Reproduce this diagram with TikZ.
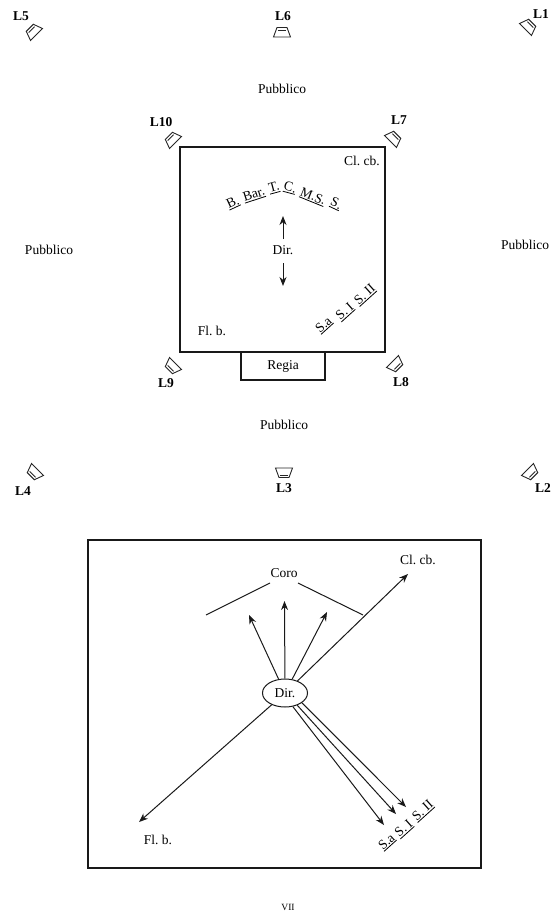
\documentclass[tikz,border=0pt]{standalone}
\usepackage{fontspec}
\setmainfont{Liberation Serif}
\usetikzlibrary{arrows.meta,shapes.geometric}
\tikzset{
 lbl/.style={inner sep=0pt,font=\fontsize{13.5}{15}\selectfont\frenchspacing},
 lab/.style={inner sep=0pt,font=\fontsize{13.5}{15}\selectfont\bfseries},
 small/.style={inner sep=0pt,font=\fontsize{9.5}{11}\selectfont},
 heavy/.style={draw=black!90,line width=1.8pt},
 arr/.style={draw=black!90,line width=1pt,-{Stealth[length=9pt,width=7pt]}},
 plain/.style={draw=black!90,line width=1pt},
 spk/.style={draw=black!85,line width=0.9pt,fill=white,line join=miter},
}
\newcommand{\ulb}[1]{\vtop{\hbox{#1}\kern0.8pt\hrule height 0.8pt}}
\newcommand{\spkr}[3]{\begin{scope}[shift={(#1,#2)},rotate=#3]
 \draw[spk] (-5,-4.5) -- (-8.5,5) -- (8.5,5) -- (5,-4.5) -- cycle;
 \draw[spk] (-4.2,-2) -- (4.2,-2);
\end{scope}}
\begin{document}
\begin{tikzpicture}[x=1pt,y=-1pt]
\useasboundingbox (0,0) rectangle (555,917);
% speakers
\spkr{33}{31}{45}
\spkr{282}{32}{0}
\spkr{529}{26}{-45}
\spkr{172}{139}{45}
\spkr{394}{138}{-45}
\spkr{172}{367}{135}
\spkr{396}{365}{-135}
\spkr{34}{473}{135}
\spkr{531}{473}{-135}
\spkr{284}{473}{180}
\node[lab] (l5) at (21,16) {L5};
\node[lab] (l6) at (283,16) {L6};
\node[lab] (l1) at (541,14) {L1};
\node[lab] (l10) at (161,122) {L10};
\node[lab] (l7) at (399,120) {L7};
\node[lab] (l9) at (166,383) {L9};
\node[lab] (l8) at (401,382) {L8};
\node[lab] (l4) at (23,491) {L4};
\node[lab] (l3) at (284,488) {L3};
\node[lab] (l2) at (543,488) {L2};
% audience
\node[lbl] (p1) at (282,89) {Pubblico};
\node[lbl] (p2) at (49,250) {Pubblico};
\node[lbl] (p3) at (525,245) {Pubblico};
\node[lbl] (p4) at (284,425) {Pubblico};
% stage
\draw[heavy] (180,147) rectangle (385,352);
\draw[heavy] (241,352) rectangle (325,380);
\node[lbl] (regia) at (283,366) {Regia};
\node[lbl] (clt) at (362,161) {Cl. cb.};
\node[lbl] (flt) at (212,331) {Fl. b.};
\node[lbl] (dirt) at (283,250) {Dir.};
\coordinate (upS) at (283,239); \coordinate (upE) at (283,216);
\coordinate (dnS) at (283,263); \coordinate (dnE) at (283,286);
\draw[arr] (upS) -- (upE);
\draw[arr] (dnS) -- (dnE);
\node[lbl,rotate=25] (c1) at (233,203) {\ulb{B.}};
\node[lbl,rotate=18] (c2) at (254,195) {\ulb{Bar.}};
\node[lbl,rotate=15] (c3) at (274,188) {\ulb{T.}};
\node[lbl,rotate=-15] (c4) at (290,188) {\ulb{C.}};
\node[lbl,rotate=-22] (c5) at (313,197) {\ulb{M.S.}};
\node[lbl,rotate=-25] (c6) at (336,204) {\ulb{S.}};
\node[lbl,rotate=42] (s1) at (324,325) {\ulb{S.a}};
\node[lbl,rotate=42] (s2) at (345,312) {\ulb{S. I}};
\node[lbl,rotate=42] (s3) at (365,295) {\ulb{S. II}};
% lower box
\draw[heavy] (88,540) rectangle (481,868);
\node[draw=black!90,line width=1pt,ellipse,minimum width=45pt,minimum height=28pt,inner sep=0pt,font=\fontsize{13.5}{15}\selectfont] (dir) at (285,693) {Dir.};
\node[lbl] (coro) at (284,573) {Coro};
\node[lbl] (cl2) at (418,560) {Cl. cb.};
\node[lbl] (fl2) at (158,840) {Fl. b.};
\coordinate (a1) at (206,615); \coordinate (a2) at (270,583);
\coordinate (b1) at (298,583); \coordinate (b2) at (363,615);
\draw[plain] (a1) -- (a2);
\draw[plain] (b1) -- (b2);
\coordinate (t1) at (249,615);
\coordinate (t2) at (284.5,601);
\coordinate (t3) at (327,612);
\coordinate (t4) at (408,574);
\coordinate (t5) at (139,822);
\coordinate (t6) at (384,825);
\coordinate (t7) at (396,814);
\coordinate (t8) at (406,807);
\draw[arr] (dir) -- (t1);
\draw[arr] (dir) -- (t2);
\draw[arr] (dir) -- (t3);
\draw[arr] (dir) -- (t4);
\draw[arr] (dir) -- (t5);
\draw[arr] (dir.-60) -- (t6);
\draw[arr] (dir.-45) -- (t7);
\draw[arr] (dir.-30) -- (t8);
\node[lbl,rotate=42] (s4) at (387,842) {\ulb{S.a}};
\node[lbl,rotate=42] (s5) at (404,829) {\ulb{S. I}};
\node[lbl,rotate=42] (s6) at (423,811) {\ulb{S. II}};
\node[small] (page) at (288,907) {VII};
\end{tikzpicture}
\end{document}
